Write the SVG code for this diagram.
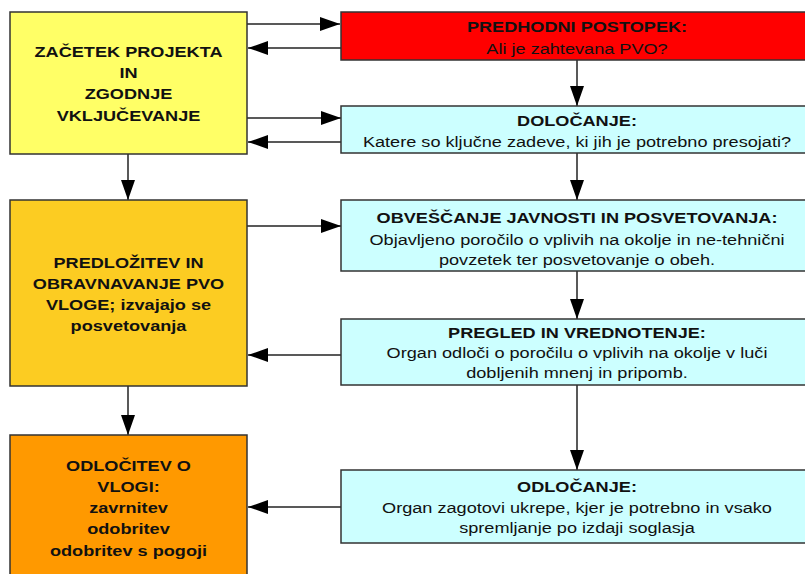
<svg xmlns="http://www.w3.org/2000/svg" width="805" height="574" viewBox="0 0 805 574">
<defs>
<marker id="ah" markerUnits="userSpaceOnUse" markerWidth="20" markerHeight="14" refX="20" refY="7" orient="auto">
<path d="M0,0 L20,7 L0,14 z" fill="#000"/>
</marker>
<style>
.box{stroke:#333;stroke-width:1.5}
.t{font-family:"Liberation Sans",Arial,sans-serif;font-size:15.5px;fill:#111;text-anchor:middle}
.b{font-weight:bold}
.c{fill:none;stroke:#222;stroke-width:1.5;marker-end:url(#ah)}
</style>
</defs>
<rect width="805" height="574" fill="#fff"/>
<g id="connectors">
<line class="c" x1="247" y1="24" x2="340" y2="24"/>
<line class="c" x1="341" y1="48" x2="248" y2="48"/>
<line class="c" x1="247" y1="118" x2="341" y2="118"/>
<line class="c" x1="341" y1="142" x2="248" y2="142"/>
<line class="c" x1="128" y1="154" x2="128" y2="200"/>
<line class="c" x1="577" y1="60" x2="577" y2="106"/>
<line class="c" x1="577" y1="153" x2="577" y2="200"/>
<line class="c" x1="247" y1="226" x2="341" y2="226"/>
<line class="c" x1="577" y1="271" x2="577" y2="319"/>
<line class="c" x1="341" y1="355" x2="248" y2="355"/>
<line class="c" x1="128" y1="386" x2="128" y2="435"/>
<line class="c" x1="577" y1="385" x2="577" y2="470"/>
<line class="c" x1="341" y1="507" x2="248" y2="507"/>
</g>
<g id="zacetek">
<rect class="box" x="10" y="12" width="237" height="142" fill="#FFFF66"/>
<g transform="translate(128.5 0) scale(1.17 1)"><text class="t b" x="0">
<tspan x="0" y="57">ZAČETEK PROJEKTA</tspan><tspan x="0" y="78">IN</tspan><tspan x="0" y="99">ZGODNJE</tspan><tspan x="0" y="121">VKLJUČEVANJE</tspan></text></g>
</g>
<g id="predlozitev">
<rect class="box" x="10" y="200" width="237" height="186" fill="#FCCC22"/>
<g transform="translate(128.5 0) scale(1.17 1)"><text class="t b" x="0">
<tspan x="0" y="268">PREDLOŽITEV IN</tspan><tspan x="0" y="289">OBRAVNAVANJE PVO</tspan><tspan x="0" y="310">VLOGE; izvajajo se</tspan><tspan x="0" y="331">posvetovanja</tspan></text></g>
</g>
<g id="odlocitev">
<rect class="box" x="10" y="435" width="237" height="150" fill="#FF9900"/>
<g transform="translate(128.5 0) scale(1.17 1)"><text class="t b" x="0">
<tspan x="0" y="471">ODLOČITEV O</tspan><tspan x="0" y="492">VLOGI:</tspan><tspan x="0" y="513">zavrnitev</tspan><tspan x="0" y="534">odobritev</tspan><tspan x="0" y="556">odobritev s pogoji</tspan></text></g>
</g>
<g id="predhodni">
<rect class="box" x="341" y="12" width="472" height="48" fill="#FF0000"/>
<g transform="translate(577 0) scale(1.17 1)"><text class="t" x="0">
<tspan class="b" x="0" y="32">PREDHODNI POSTOPEK:</tspan><tspan x="0" y="54">Ali je zahtevana PVO?</tspan></text></g>
</g>
<g id="dolocanje">
<rect class="box" x="341" y="106" width="472" height="47" fill="#CCFFFF"/>
<g transform="translate(577 0) scale(1.17 1)"><text class="t" x="0">
<tspan class="b" x="0" y="126">DOLOČANJE:</tspan><tspan x="0" y="147">Katere so ključne zadeve, ki jih je potrebno presojati?</tspan></text></g>
</g>
<g id="obvescanje">
<rect class="box" x="341" y="200" width="472" height="71" fill="#CCFFFF"/>
<g transform="translate(577 0) scale(1.17 1)"><text class="t" x="0">
<tspan class="b" x="0" y="223">OBVEŠČANJE JAVNOSTI IN POSVETOVANJA:</tspan><tspan x="0" y="245">Objavljeno poročilo o vplivih na okolje in ne-tehnični</tspan><tspan x="0" y="265">povzetek ter posvetovanje o obeh.</tspan></text></g>
</g>
<g id="pregled">
<rect class="box" x="341" y="319" width="472" height="66" fill="#CCFFFF"/>
<g transform="translate(577 0) scale(1.17 1)"><text class="t" x="0">
<tspan class="b" x="0" y="338">PREGLED IN VREDNOTENJE:</tspan><tspan x="0" y="358">Organ odloči o poročilu o vplivih na okolje v luči</tspan><tspan x="0" y="378">dobljenih mnenj in pripomb.</tspan></text></g>
</g>
<g id="odlocanje">
<rect class="box" x="341" y="470" width="472" height="73" fill="#CCFFFF"/>
<g transform="translate(577 0) scale(1.17 1)"><text class="t" x="0">
<tspan class="b" x="0" y="492">ODLOČANJE:</tspan><tspan x="0" y="513">Organ zagotovi ukrepe, kjer je potrebno in vsako</tspan><tspan x="0" y="533">spremljanje po izdaji soglasja</tspan></text></g>
</g>
</svg>
